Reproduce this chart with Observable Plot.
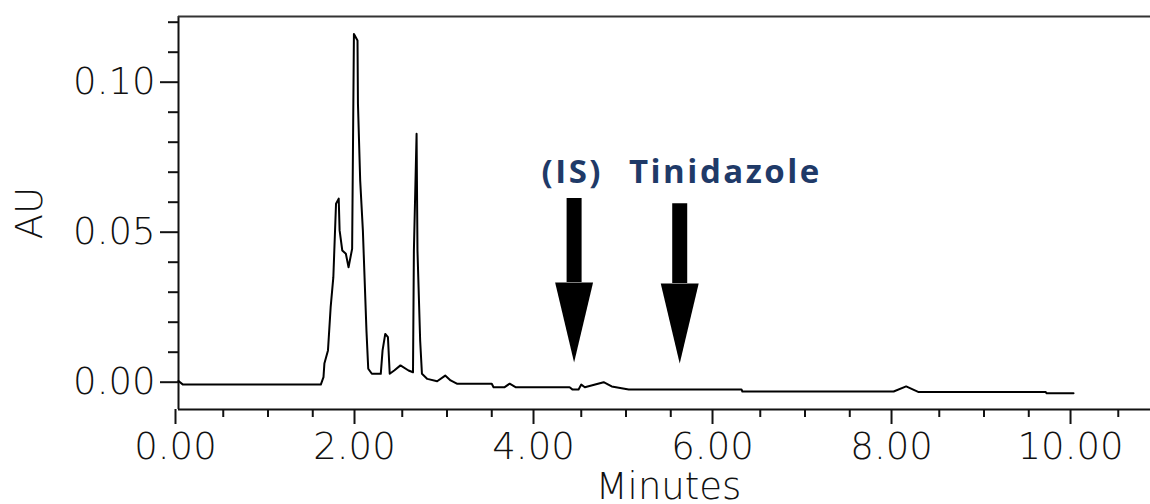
<!DOCTYPE html>
<html>
<head>
<meta charset="utf-8">
<script src="https://cdn.jsdelivr.net/npm/d3@7"></script>
<script src="https://cdn.jsdelivr.net/npm/@observablehq/plot@0.6"></script>
<style>
  html, body { margin: 0; padding: 0; background: #fff; }
</style>
</head>
<body>
<div id="chart"></div>
<script>
// Chromatogram trace (minutes, AU)
const times = [0, 0.05, 1.59, 1.62, 1.63, 1.67, 1.70, 1.73, 1.76, 1.79, 1.80, 1.83, 1.87, 1.90, 1.94, 1.96, 2.00, 2.005, 2.03, 2.06, 2.10, 2.12, 2.16, 2.26, 2.28, 2.31, 2.34, 2.36, 2.41, 2.48, 2.57, 2.62, 2.63, 2.66, 2.67, 2.70, 2.72, 2.78, 2.89, 2.98, 3.04, 3.11, 3.50, 3.52, 3.64, 3.70, 3.77, 4.37, 4.40, 4.47, 4.50, 4.54, 4.75, 4.84, 5.03, 6.29, 6.30, 7.99, 8.13, 8.27, 9.69, 9.70, 10.00];
const absorbance = [0.0004, -0.0008, -0.0008, 0.0017, 0.0062, 0.0106, 0.0250, 0.0350, 0.0595, 0.0612, 0.0506, 0.0439, 0.0428, 0.0383, 0.0445, 0.1161, 0.1139, 0.0928, 0.0672, 0.0506, 0.0172, 0.0045, 0.0028, 0.0028, 0.0106, 0.0161, 0.0150, 0.0028, 0.0039, 0.0056, 0.0039, 0.0033, 0.0439, 0.0828, 0.0439, 0.0139, 0.0028, 0.0011, 0.0003, 0.0022, 0.0006, -0.0005, -0.0005, -0.0017, -0.0017, -0.0005, -0.0017, -0.0017, -0.0024, -0.0024, -0.0008, -0.0017, 0.0000, -0.0014, -0.0024, -0.0024, -0.0031, -0.0031, -0.0014, -0.0033, -0.0033, -0.0037, -0.0037];

// Axis ticks
const xMajorTicks = [0, 2, 4, 6, 8, 10];
const xMinorTicks = [0.5, 1, 1.5, 2.5, 3, 3.5, 4.5, 5, 5.5, 6.5, 7, 7.5, 8.5, 9, 9.5, 10.5];
const yMajorTicks = [0, 0.05, 0.10];
const yMinorTicks = [0.01, 0.02, 0.03, 0.04, 0.06, 0.07, 0.08, 0.09, 0.11, 0.12];
const xDomain = [0, 10.86];
const yDomain = [-0.0091, 0.1219];

// Annotations (arrows pointing at expected peaks)
const annLabels = ["(IS)", "Tinidazole"];
const annLabelTimes = [4.40, 6.11];
const annLabelLevel = [0.0698, 0.0698];
const arrowTimes = [4.42, 5.60];
const arrowTop = [0.0612, 0.0595];
const arrowHeadBase = [0.0332, 0.0329];
const arrowTip = [0.0066, 0.0062];

const trace = times.map((t, i) => ({t, v: absorbance[i]}));
const labels = annLabels.map((s, i) => ({s, t: annLabelTimes[i], v: annLabelLevel[i]}));
const arrows = arrowTimes.map((t, i) => ({t, top: arrowTop[i], base: arrowHeadBase[i], tip: arrowTip[i]}));
const headHalf = 0.212; // half-width of arrow head in minutes
const heads = arrows.flatMap((a, i) => [
  {id: i, t: a.t - headHalf, v: a.base},
  {id: i, t: a.t + headHalf, v: a.base},
  {id: i, t: a.t, v: a.tip}
]);

const tickFont = {fontFamily: "DejaVu Sans", fontWeight: 200, fontSize: 37};

const chart = Plot.plot({
  width: 1150,
  height: 504,
  marginLeft: 178,
  marginRight: 0,
  marginTop: 16,
  marginBottom: 95,
  style: {fontFamily: "DejaVu Sans", color: "#111", background: "#fff", overflow: "visible"},
  x: {domain: xDomain},
  y: {domain: yDomain},
  marks: [
    Plot.ruleX([xDomain[0]], {strokeWidth: 2, stroke: "#111"}),
    Plot.ruleY([yDomain[0]], {strokeWidth: 2, stroke: "#111"}),
    Plot.ruleY([yDomain[1]], {strokeWidth: 2, stroke: "#333"}),
    Plot.axisX({ticks: xMajorTicks, tickSize: 15, tickPadding: 8, strokeWidth: 2, tickFormat: d3.format(".2f"), label: null, dx: -3, ...tickFont}),
    Plot.axisX({ticks: xMinorTicks, tickSize: 8, strokeWidth: 2, tickFormat: () => "", label: null}),
    Plot.axisY({ticks: yMajorTicks, tickSize: 18, tickPadding: 5, strokeWidth: 2, tickFormat: d3.format(".2f"), label: null, ...tickFont}),
    Plot.axisY({ticks: yMinorTicks, tickSize: 10, strokeWidth: 2, tickFormat: () => "", label: null}),
    Plot.text(["Minutes"], {frameAnchor: "bottom", lineAnchor: "bottom", textAnchor: "middle", dy: 89, dx: 4, ...tickFont}),
    Plot.text(["AU"], {frameAnchor: "left", textAnchor: "middle", lineAnchor: "middle", rotate: -90, dx: -148, dy: 0, ...tickFont}),
    Plot.line(trace, {x: "t", y: "v", stroke: "#000", strokeWidth: 2}),
    Plot.ruleX(arrows, {x: "t", y1: "base", y2: "top", stroke: "#000", strokeWidth: 15}),
    Plot.line(heads, {x: "t", y: "v", z: "id", fill: "#000", stroke: "none"}),
    Plot.text(labels, {x: "t", y: "v", text: "s", fill: "#1f3a68", fontFamily: "Open Sans", fontWeight: 700, fontSize: 33})
  ]
});
d3.select(chart).selectAll("text")
  .filter(function() { return annLabels.includes(this.textContent); })
  .attr("letter-spacing", "2.5px");
document.getElementById("chart").appendChild(chart);
</script>
</body>
</html>
